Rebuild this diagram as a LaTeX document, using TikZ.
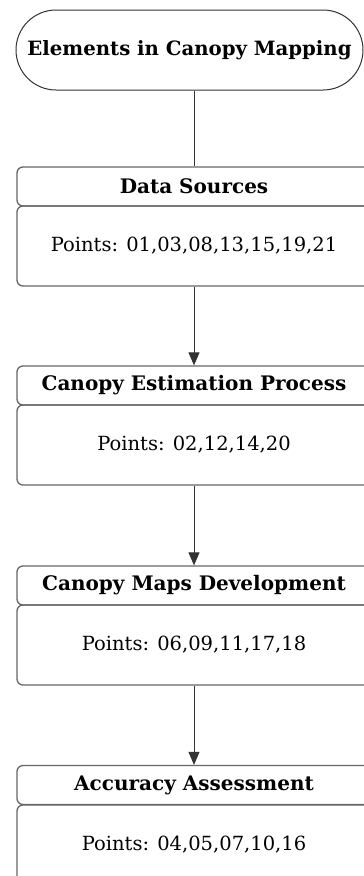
\documentclass[tikz,border=0pt]{standalone}
\usepackage{fontspec}
\setmainfont{DejaVu Serif}
\usetikzlibrary{arrows.meta,positioning}

\begin{document}
\begin{tikzpicture}[x=1pt,y=-1pt,
  pill/.style={draw=black!80, line width=1pt, rounded corners=40pt,
    minimum width=347pt, minimum height=80pt,
    font=\bfseries\fontsize{19.7}{22}\selectfont},
  headbox/.style={draw=black!60, line width=1.3pt, rounded corners=6pt,
    minimum width=354pt, minimum height=39pt,
    font=\bfseries\fontsize{20}{22}\selectfont},
  bodybox/.style={draw=black!60, line width=1.3pt, rounded corners=6pt,
    minimum width=354pt, minimum height=80pt,
    font=\fontsize{19.5}{22}\selectfont},
  link/.style={draw=black!80, line width=1pt},
  arr/.style={link, -{Triangle[length=13pt,width=11pt]}}]
\useasboundingbox (0,0) rectangle (364,876);
\clip (0,0) rectangle (364,876);

% title
\node[pill] (title) at (189.5,50) {Elements in Canopy Mapping};

% four groups
\node[headbox] (srchead) at (194,186.5) {Data Sources};
\node[bodybox] (srcbody) at (194,246) {Points: 01,03,08,13,15,19,21};

\node[headbox] (esthead) at (194,385.5) {Canopy Estimation Process};
\node[bodybox] (estbody) at (194,445) {Points: 02,12,14,20};

\node[headbox] (maphead) at (194,585.5) {Canopy Maps Development};
\node[bodybox] (mapbody) at (194,645) {Points: 06,09,11,17,18};

\node[headbox] (acchead) at (194,785) {Accuracy Assessment};
\node[bodybox] (accbody) at (194,845) {Points: 04,05,07,10,16};

% connectors
\draw[link] (title.south -| srchead.north) -- (srchead.north);
\draw[arr] (srcbody.south) -- (esthead.north);
\draw[arr] (estbody.south) -- (maphead.north);
\draw[arr] (mapbody.south) -- (acchead.north);
\end{tikzpicture}
\end{document}
